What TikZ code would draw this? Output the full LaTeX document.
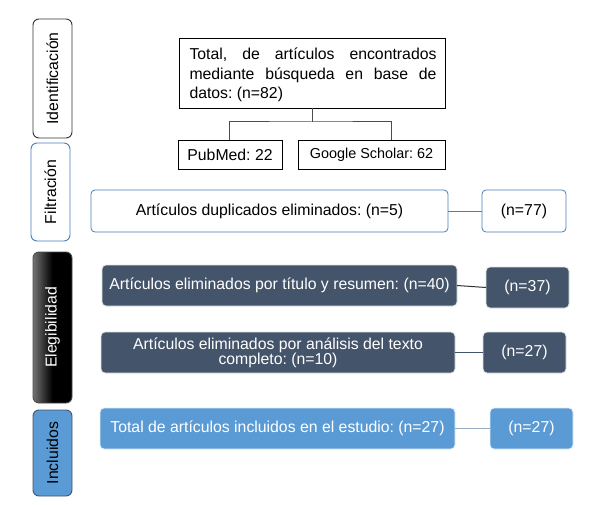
\documentclass[tikz,border=0pt]{standalone}
\usepackage{fontspec}
\setmainfont{Liberation Sans}
\usetikzlibrary{positioning}
\definecolor{slate}{HTML}{44546A}
\definecolor{lblue}{HTML}{5B9BD5}
\definecolor{bblue}{HTML}{4A7EBB}
\begin{document}
\frenchspacing
\begin{tikzpicture}[x=1pt,y=-1pt,
  every node/.style={font=\fontsize{15.8}{17}\selectfont, inner sep=0pt, outer sep=0pt},
  sidebox/.style={rounded corners=6pt, line width=0.9pt, minimum width=39pt, text=black},
  plain/.style={draw=black, line width=0.8pt, text=black},
  outl/.style={draw=bblue, line width=0.8pt, rounded corners=4pt, fill=white},
  darkb/.style={draw=white!85!slate, line width=0.8pt, rounded corners=4pt, fill=slate, text=white},
  lightb/.style={draw=white!85!lblue, line width=0.8pt, rounded corners=4pt, fill=lblue, text=white},
  conn/.style={line width=1pt}
]
\path[use as bounding box] (0,0) rectangle (599,505);
\fill[white] (0,0) rectangle (599,505);

% side labels
\node[sidebox, draw=black!80, fill=white, minimum height=119pt, anchor=north west] (ident) at (33,19) {\rotatebox{90}{Identificación}};
\node[sidebox, draw=bblue, fill=white, minimum height=98pt, anchor=north west] (filt) at (31,143) {\rotatebox{90}{Filtración}};
\node[sidebox, draw=black!70, left color=black!55, right color=black, middle color=black, minimum height=151pt, anchor=north west, text=white] (eleg) at (33,252) {\rotatebox{90}{Elegibilidad}};
\node[sidebox, draw=slate, fill=lblue, minimum height=86pt, anchor=north west] (incl) at (33,410) {\rotatebox{90}{Incluidos}};

% top
\node[plain, minimum width=266pt, minimum height=70pt, anchor=north west] (total) at (179,38) {};
\node[align=left, anchor=center, font=\fontsize{15.8}{19.5}\selectfont] (totaltxt) at ([xshift=1pt,yshift=-2pt]total.center) {\hbox to 247pt{Total,\hfill de\hfill artículos\hfill encontrados}\\\hbox to 247pt{mediante\hfill búsqueda\hfill en\hfill base\hfill de}\\\hbox to 247pt{datos: (n=82)\hfill}};
\node[plain, minimum width=104pt, minimum height=29pt, anchor=north west] (pub) at (178,140) {PubMed: 22};
\node[plain, minimum width=147pt, minimum height=29pt, anchor=north west, font=\fontsize{14.4}{16}\selectfont] (goo) at (298,140) {Google Scholar: 62};
\coordinate (split) at (312,122);
\draw[line width=1pt, black!70] (total.south -| split) -- (split);
\draw[line width=1pt, black!70] (pub.north -| 229,0) |- (split) -| (goo.north -| 391,0);

% row 1
\node[outl, minimum width=357pt, minimum height=42pt, anchor=north west] (dup) at (91,190) {Artículos duplicados eliminados: (n=5)};
\node[outl, minimum width=84pt, minimum height=42pt, anchor=north west] (n77) at (482,190) {(n=77)};
\draw[conn, bblue] (dup.east) -- (n77.west);

% row 2
\node[darkb, minimum width=355pt, minimum height=41pt, anchor=north west] (tit) at (102,265) {Artículos eliminados por título y resumen: (n=40)};
\node[darkb, minimum width=83pt, minimum height=41pt, anchor=north west] (n37) at (486,267) {(n=37)};
\draw[conn, black!80] (tit.east) -- (n37.west);

% row 3
\node[darkb, minimum width=354pt, minimum height=41pt, anchor=north west, align=center, font=\fontsize{15.8}{15}\selectfont] (ana) at (101,332) {Artículos eliminados por análisis del texto\\completo: (n=10)};
\node[darkb, minimum width=83pt, minimum height=41pt, anchor=north west] (n27a) at (483,332) {(n=27)};
\draw[conn, slate] (ana.east) -- (n27a.west);

% row 4
\node[lightb, minimum width=355pt, minimum height=41pt, anchor=north west] (inc) at (100,408) {Total de artículos incluidos en el estudio: (n=27)};
\node[lightb, minimum width=83pt, minimum height=41pt, anchor=north west] (n27b) at (490,408) {(n=27)};
\draw[conn, slate!50!lblue!60] (inc.east) -- (n27b.west);
\end{tikzpicture}
\end{document}
